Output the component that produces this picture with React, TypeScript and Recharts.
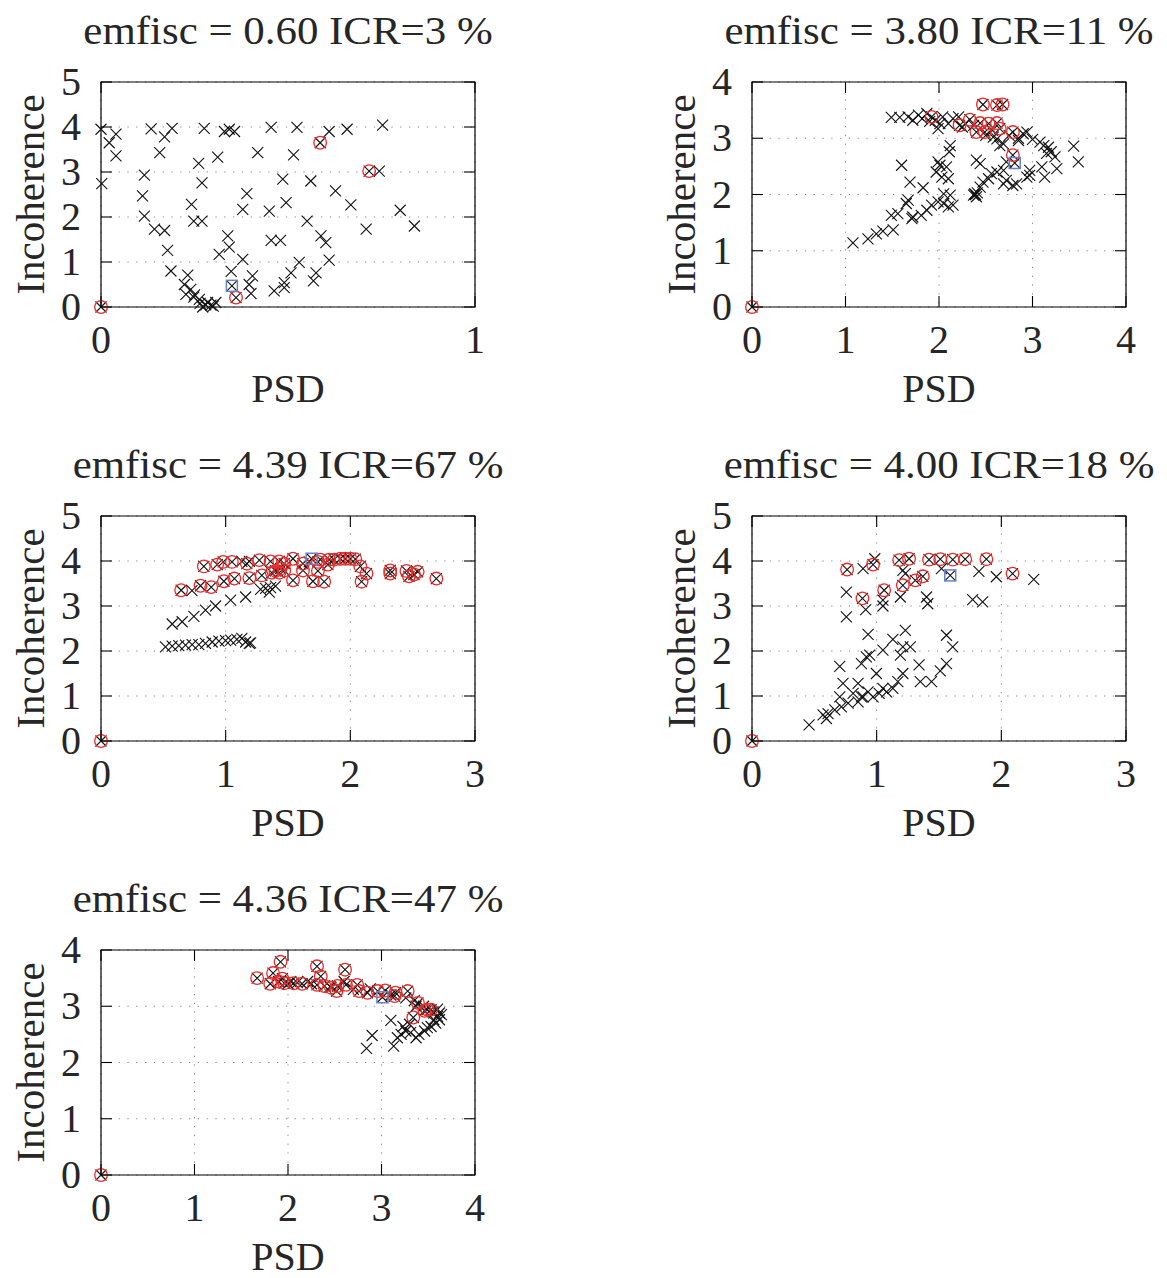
import { ScatterChart, Scatter, XAxis, YAxis, CartesianGrid, ReferenceArea } from "recharts";

type Pt = [number, number];

const titles = [
  "emfisc = 0.60 ICR=3 %",
  "emfisc = 3.80 ICR=11 %",
  "emfisc = 4.39 ICR=67 %",
  "emfisc = 4.00 ICR=18 %",
  "emfisc = 4.36 ICR=47 %",
];

// panel 1
const p1Black: Pt[] = [
  [0, 3.95], [0.022, 3.65], [0.04, 3.84], [0.04, 3.36], [0.002, 2.74], [0.134, 3.96], [0.17, 3.78],
  [0.19, 3.97], [0.157, 3.43], [0.116, 2.93], [0.111, 2.47], [0.116, 2.02], [0.143, 1.73], [0.17, 1.7],
  [0.178, 1.26], [0.187, 0.8], [0.232, 0.71], [0.223, 0.5], [0.24, 0.39], [0.227, 0.28], [0.25, 0.27],
  [0.263, 0.17], [0.272, 0.0], [0.285, 0.1], [0.294, 0.04], [0.307, 0.1], [0.28, 0.05], [0.3, 0.02],
  [0.265, 0.08], [0.248, 0.22], [0.276, 3.97], [0.33, 3.9], [0.357, 3.9], [0.343, 3.95], [0.312, 3.33],
  [0.261, 3.19], [0.27, 2.76], [0.242, 2.28], [0.248, 1.91], [0.27, 1.91], [0.339, 1.58], [0.343, 1.33],
  [0.316, 1.17], [0.348, 0.79], [0.379, 1.06], [0.39, 2.52], [0.379, 2.17], [0.405, 0.69], [0.396, 0.5],
  [0.401, 0.3], [0.419, 3.43], [0.455, 3.99], [0.45, 2.13], [0.455, 1.48], [0.48, 1.48], [0.463, 0.36],
  [0.49, 0.43], [0.49, 0.54], [0.508, 0.76], [0.53, 0.99], [0.486, 2.84], [0.495, 2.32], [0.515, 3.38],
  [0.524, 3.99], [0.551, 1.91], [0.561, 2.8], [0.568, 0.58], [0.575, 0.76], [0.588, 1.58], [0.601, 1.43],
  [0.61, 1.04], [0.61, 3.9], [0.627, 2.58], [0.658, 3.95], [0.668, 2.27], [0.709, 1.73], [0.744, 3.02],
  [0.753, 4.04], [0.8, 2.15], [0.838, 1.8],
];
const p1Red: Pt[] = [[0.361, 0.21], [0.586, 3.65], [0.717, 3.02], [0, 0]];
const p1Blue: Pt[] = [[0.35, 0.47]];

// panel 2
const p2Black: Pt[] = [
  [1.49, 3.37], [1.58, 3.37], [1.67, 3.38], [1.72, 3.32], [1.78, 3.41], [1.82, 3.35], [1.87, 3.44],
  [1.9, 3.3], [1.96, 3.32], [2.01, 3.26], [1.99, 3.17], [2.04, 3.38], [2.1, 3.26], [2.15, 3.35],
  [2.21, 3.38], [2.25, 3.2], [2.28, 3.26], [2.37, 3.23], [2.5, 3.05], [2.57, 3.14], [2.58, 3.02],
  [2.62, 2.99], [2.65, 2.87], [2.69, 2.9], [2.75, 3.05], [2.85, 2.96], [2.85, 3.0], [2.9, 3.08],
  [2.94, 3.11], [3.0, 2.98], [3.08, 2.93], [3.12, 2.87], [3.17, 2.84], [3.2, 2.76], [3.24, 2.67],
  [3.15, 2.73], [3.44, 2.86], [3.49, 2.58], [3.26, 2.46], [3.13, 2.31], [3.1, 2.49], [2.97, 2.43],
  [2.94, 2.31], [2.97, 2.34], [2.72, 2.58], [2.69, 2.43], [2.62, 2.4], [2.56, 2.37], [2.53, 2.28],
  [2.47, 2.22], [2.44, 2.13], [2.38, 2.01], [2.37, 1.99], [2.4, 1.96], [2.39, 2.0], [2.41, 2.03],
  [2.4, 2.61], [2.44, 2.55], [2.69, 2.19], [2.79, 2.16], [2.83, 2.19], [2.72, 2.25], [2.12, 2.87],
  [2.11, 2.76], [1.99, 2.58], [2.01, 2.52], [2.08, 2.49], [1.97, 2.4], [2.03, 2.31], [2.1, 2.28],
  [1.6, 2.52], [1.69, 2.22], [1.83, 2.12], [2.05, 2.01], [2.12, 1.99], [2.05, 1.84], [2.1, 1.78],
  [2.15, 1.81], [1.99, 1.87], [1.92, 1.81], [1.87, 1.72], [1.81, 1.63], [1.72, 1.6], [1.67, 1.9],
  [1.65, 1.84], [1.71, 1.57], [1.56, 1.66], [1.49, 1.63], [1.51, 1.37], [1.4, 1.35], [1.33, 1.3],
  [1.24, 1.21], [1.08, 1.14],
];
const p2Red: Pt[] = [
  [1.92, 3.38], [2.22, 3.23], [2.33, 3.33], [2.4, 3.11], [2.44, 3.27], [2.49, 3.11], [2.53, 3.26],
  [2.47, 3.6], [2.62, 3.59], [2.68, 3.6], [2.62, 3.27], [2.65, 3.17], [2.79, 3.11], [2.79, 2.7], [0, 0],
];
const p2Blue: Pt[] = [[2.81, 2.56]];

// panel 3
const p3Black: Pt[] = [
  [0.517, 2.09], [0.571, 2.11], [0.624, 2.12], [0.678, 2.13], [0.731, 2.14], [0.785, 2.14], [0.838, 2.17],
  [0.892, 2.2], [0.946, 2.22], [0.999, 2.23], [1.04, 2.24], [1.09, 2.26], [1.13, 2.28], [1.16, 2.2],
  [1.19, 2.17], [1.2, 2.18], [0.571, 2.6], [0.651, 2.65], [0.745, 2.77], [0.838, 2.91], [0.919, 3.0],
  [1.04, 3.13], [1.16, 3.2], [1.28, 3.37], [1.32, 3.39], [1.36, 3.41], [1.4, 3.44], [1.35, 3.31],
  [0.73, 3.34], [1.13, 3.99], [1.19, 3.99], [1.67, 3.98],
];
const p3Red: Pt[] = [
  [0.643, 3.35], [0.798, 3.45], [0.884, 3.42], [0.986, 3.55], [1.07, 3.61], [1.19, 3.62], [1.29, 3.68],
  [1.37, 3.74], [1.4, 3.78], [1.43, 3.74], [1.44, 3.83], [1.47, 3.79], [1.54, 3.57], [1.62, 3.79],
  [1.7, 3.55], [1.79, 3.54], [1.74, 3.78], [1.82, 3.92], [2.08, 3.88], [2.13, 3.72], [2.09, 3.54],
  [2.32, 3.79], [2.32, 3.72], [2.45, 3.78], [2.47, 3.66], [2.51, 3.7], [2.54, 3.76], [2.69, 3.61],
  [0.825, 3.88], [0.932, 3.92], [0.98, 3.98], [1.05, 3.98], [1.17, 3.94], [1.27, 4.02], [1.36, 3.99],
  [1.43, 3.99], [1.47, 3.94], [1.54, 4.05], [1.62, 3.94], [1.76, 4.03], [1.83, 4.03], [1.87, 4.03],
  [1.92, 4.05], [1.96, 4.05], [2.0, 4.05], [2.04, 4.04], [1.74, 3.98], [0, 0],
];
const p3Blue: Pt[] = [[1.69, 4.05]];

// panel 4
const p4Black: Pt[] = [
  [0.891, 3.83], [0.985, 4.05], [1.21, 3.79], [1.23, 3.72], [1.52, 3.83], [1.82, 3.77], [1.96, 3.65],
  [2.26, 3.59], [0.757, 3.31], [0.912, 2.92], [0.757, 2.76], [1.05, 3.13], [1.05, 3.0], [1.19, 3.2],
  [1.4, 3.2], [1.41, 3.05], [1.77, 3.14], [1.85, 3.09], [0.931, 2.37], [1.23, 2.46], [1.13, 2.26],
  [1.21, 2.09], [1.27, 2.09], [1.19, 1.91], [1.56, 2.35], [1.61, 2.09], [1.05, 2.02], [0.944, 1.91],
  [0.917, 1.87], [0.704, 1.66], [0.878, 1.72], [1.34, 1.69], [1.56, 1.72], [1.51, 1.56], [1.44, 1.32],
  [1.35, 1.32], [0.998, 1.5], [1.21, 1.5], [1.17, 1.32], [1.13, 1.17], [1.08, 1.09], [1.02, 1.06],
  [0.971, 0.98], [0.931, 1.09], [0.878, 0.98], [0.851, 1.28], [0.73, 1.28], [0.704, 0.98], [0.811, 1.06],
  [0.851, 0.87], [0.891, 0.98], [0.771, 0.84], [0.717, 0.76], [0.664, 0.69], [0.61, 0.61], [0.57, 0.58],
  [0.597, 0.5], [0.458, 0.36], [1.05, 1.17],
];
const p4Red: Pt[] = [
  [0.763, 3.81], [0.971, 3.92], [1.18, 4.02], [1.26, 4.05], [1.42, 4.03], [1.51, 4.04], [1.61, 4.03],
  [1.71, 4.04], [1.88, 4.04], [2.09, 3.72], [1.37, 3.66], [1.31, 3.57], [1.21, 3.46], [1.06, 3.35],
  [0.886, 3.17], [0, 0],
];
const p4Blue: Pt[] = [[1.59, 3.68]];

// panel 5
const p5Black: Pt[] = [
  [2.0, 3.4], [2.03, 3.44], [2.1, 3.42], [2.21, 3.44], [2.25, 3.4], [2.45, 3.35], [2.6, 3.44],
  [2.7, 3.3], [2.88, 3.31], [3.1, 3.2], [3.26, 3.15], [3.35, 3.1], [3.37, 3.0], [3.45, 3.0],
  [3.55, 2.9], [3.6, 2.95], [3.62, 2.88], [3.56, 2.88], [3.6, 2.82], [3.62, 2.76], [3.58, 2.7],
  [3.53, 2.64], [3.49, 2.62], [3.46, 2.56], [3.4, 2.5], [3.37, 2.44], [3.31, 2.53], [3.26, 2.56],
  [3.21, 2.5], [3.17, 2.44], [3.23, 2.64], [3.1, 2.75], [3.13, 2.29], [2.9, 2.48], [2.84, 2.25],
  [3.64, 2.85], [3.56, 2.76], [3.3, 2.68],
];
const p5Red: Pt[] = [
  [1.67, 3.5], [1.84, 3.59], [1.92, 3.79], [1.81, 3.4], [1.9, 3.44], [1.94, 3.49], [1.96, 3.41],
  [2.06, 3.41], [2.15, 3.4], [2.31, 3.71], [2.35, 3.53], [2.31, 3.38], [2.39, 3.36], [2.46, 3.33],
  [2.53, 3.36], [2.52, 3.27], [2.61, 3.65], [2.62, 3.38], [2.74, 3.38], [2.76, 3.27], [2.85, 3.24],
  [2.96, 3.27], [3.04, 3.28], [3.14, 3.18], [3.15, 3.24], [3.28, 3.27], [3.39, 3.06], [3.46, 2.92],
  [3.49, 2.94], [3.53, 2.94], [3.34, 2.8], [0, 0],
];
const p5Blue: Pt[] = [[3.01, 3.16]];

const xTicks = [[0, 1], [0, 1, 2, 3, 4], [0, 1, 2, 3], [0, 1, 2, 3], [0, 1, 2, 3, 4]];
const yTicks = [[0, 1, 2, 3, 4, 5], [0, 1, 2, 3, 4], [0, 1, 2, 3, 4, 5], [0, 1, 2, 3, 4, 5], [0, 1, 2, 3, 4]];

const blackSets = [p1Black, p2Black, p3Black, p4Black, p5Black];
const redSets = [p1Red, p2Red, p3Red, p4Red, p5Red];
const blueSets = [p1Blue, p2Blue, p3Blue, p4Blue, p5Blue];

// wrapper positions on the page
const panelPos = [
  { left: 1, top: -8 },
  { left: 652, top: -8 },
  { left: 1, top: 426 },
  { left: 652, top: 426 },
  { left: 1, top: 860 },
];

const FONT = '"Liberation Serif", "Times New Roman", serif';
const TEXT = "#262626";
const PLOT_W = 374;
const PLOT_H = 225;
const M_LEFT = 100;
const M_TOP = 28;
const M_RIGHT = 20;
const AX_H = 110;
const CHART_W = M_LEFT + PLOT_W + M_RIGHT;
const CHART_H = M_TOP + PLOT_H + AX_H;
const TITLE_H = 62;
const TITLE_PAD = 30;
const TICK_LEN = 11;

const toObj = (pts: Pt[]) => pts.map(([x, y]) => ({ x, y }));

function XMark(props: any) {
  const { cx, cy } = props;
  const s = 5.5;
  return (
    <path
      d={`M${cx - s},${cy - s}L${cx + s},${cy + s}M${cx - s},${cy + s}L${cx + s},${cy - s}`}
      stroke="#111"
      strokeWidth={1.1}
      fill="none"
    />
  );
}

function RedRing(props: any) {
  const { cx, cy } = props;
  return <circle cx={cx} cy={cy} r={6.3} fill="none" stroke="#ea2b2b" strokeWidth={1.3} />;
}

function BlueBox(props: any) {
  const { cx, cy } = props;
  return <rect x={cx - 5.5} y={cy - 5.5} width={11} height={11} fill="none" stroke="#6783c4" strokeWidth={1.5} />;
}

function XTick(props: any) {
  const { x, y, payload } = props;
  return (
    <g>
      <line x1={x} y1={y} x2={x} y2={y - TICK_LEN} stroke="#000" strokeWidth={1.1} />
      <line x1={x} y1={y - PLOT_H} x2={x} y2={y - PLOT_H + TICK_LEN} stroke="#000" strokeWidth={1.1} />
      <text x={x} y={y + 46} textAnchor="middle" fontFamily={FONT} fontSize={40} fill={TEXT}>
        {payload.value}
      </text>
    </g>
  );
}

function YTick(props: any) {
  const { x, y, payload } = props;
  return (
    <g>
      <line x1={x} y1={y} x2={x + TICK_LEN} y2={y} stroke="#000" strokeWidth={1.1} />
      <line x1={x + PLOT_W - TICK_LEN} y1={y} x2={x + PLOT_W} y2={y} stroke="#000" strokeWidth={1.1} />
      <text x={x - 20} y={y + 13} textAnchor="end" fontFamily={FONT} fontSize={40} fill={TEXT}>
        {payload.value}
      </text>
    </g>
  );
}

const xLabel = () => (
  <text x={M_LEFT + PLOT_W / 2} y={M_TOP + PLOT_H + 95} textAnchor="middle" fontFamily={FONT} fontSize={40} fill={TEXT}>
    PSD
  </text>
);

const yLabel = () => (
  <text
    transform={`translate(43,${M_TOP + PLOT_H / 2}) rotate(-90)`}
    textAnchor="middle"
    fontFamily={FONT}
    fontSize={41}
    fill={TEXT}
  >
    Incoherence
  </text>
);

function Panel({ i }: { i: number }) {
  const xt = xTicks[i];
  const yt = yTicks[i];
  const xMax = xt[xt.length - 1];
  const yMax = yt[yt.length - 1];
  const red = redSets[i];
  const blue = blueSets[i];
  const black = [...blackSets[i], ...red, ...blue];
  return (
    <div style={{ position: "absolute", left: panelPos[i].left, top: panelPos[i].top, width: CHART_W }}>
      <svg
        width={CHART_W + 2 * TITLE_PAD}
        height={TITLE_H}
        style={{ display: "block", marginLeft: -TITLE_PAD }}
      >
        <text
          transform={`translate(${TITLE_PAD + M_LEFT + PLOT_W / 2},${TITLE_H + M_TOP - 38.4}) scale(1.1,1)`}
          textAnchor="middle"
          fontFamily={FONT}
          fontSize={39}
          fill={TEXT}
        >
          {titles[i]}
        </text>
      </svg>
      <ScatterChart width={CHART_W} height={CHART_H} margin={{ top: M_TOP, right: M_RIGHT, bottom: 0, left: 0 }}>
        <CartesianGrid stroke="#8a8a8a" strokeDasharray="1.3 7.5" strokeWidth={1} />
        <XAxis
          type="number"
          dataKey="x"
          domain={[0, xMax]}
          ticks={xt}
          interval={0}
          height={AX_H}
          tickSize={0}
          tickMargin={0}
          tickLine={false}
          axisLine={false}
          tick={XTick}
          label={xLabel}
        />
        <YAxis
          type="number"
          dataKey="y"
          domain={[0, yMax]}
          ticks={yt}
          interval={0}
          width={M_LEFT}
          tickSize={0}
          tickMargin={0}
          tickLine={false}
          axisLine={false}
          tick={YTick}
          label={yLabel}
        />
        <ReferenceArea x1={0} x2={xMax} y1={0} y2={yMax} fill="none" stroke="#000" strokeWidth={1.2} />
        <Scatter data={toObj(black)} shape={XMark} isAnimationActive={false} />
        <Scatter data={toObj(red)} shape={RedRing} isAnimationActive={false} />
        <Scatter data={toObj(blue)} shape={BlueBox} isAnimationActive={false} />
      </ScatterChart>
    </div>
  );
}

export default function App() {
  return (
    <div style={{ position: "absolute", left: 0, top: 0, width: 1167, height: 1278, background: "#fff", overflow: "hidden" }}>
      {titles.map((_, i) => (
        <Panel key={i} i={i} />
      ))}
    </div>
  );
}
